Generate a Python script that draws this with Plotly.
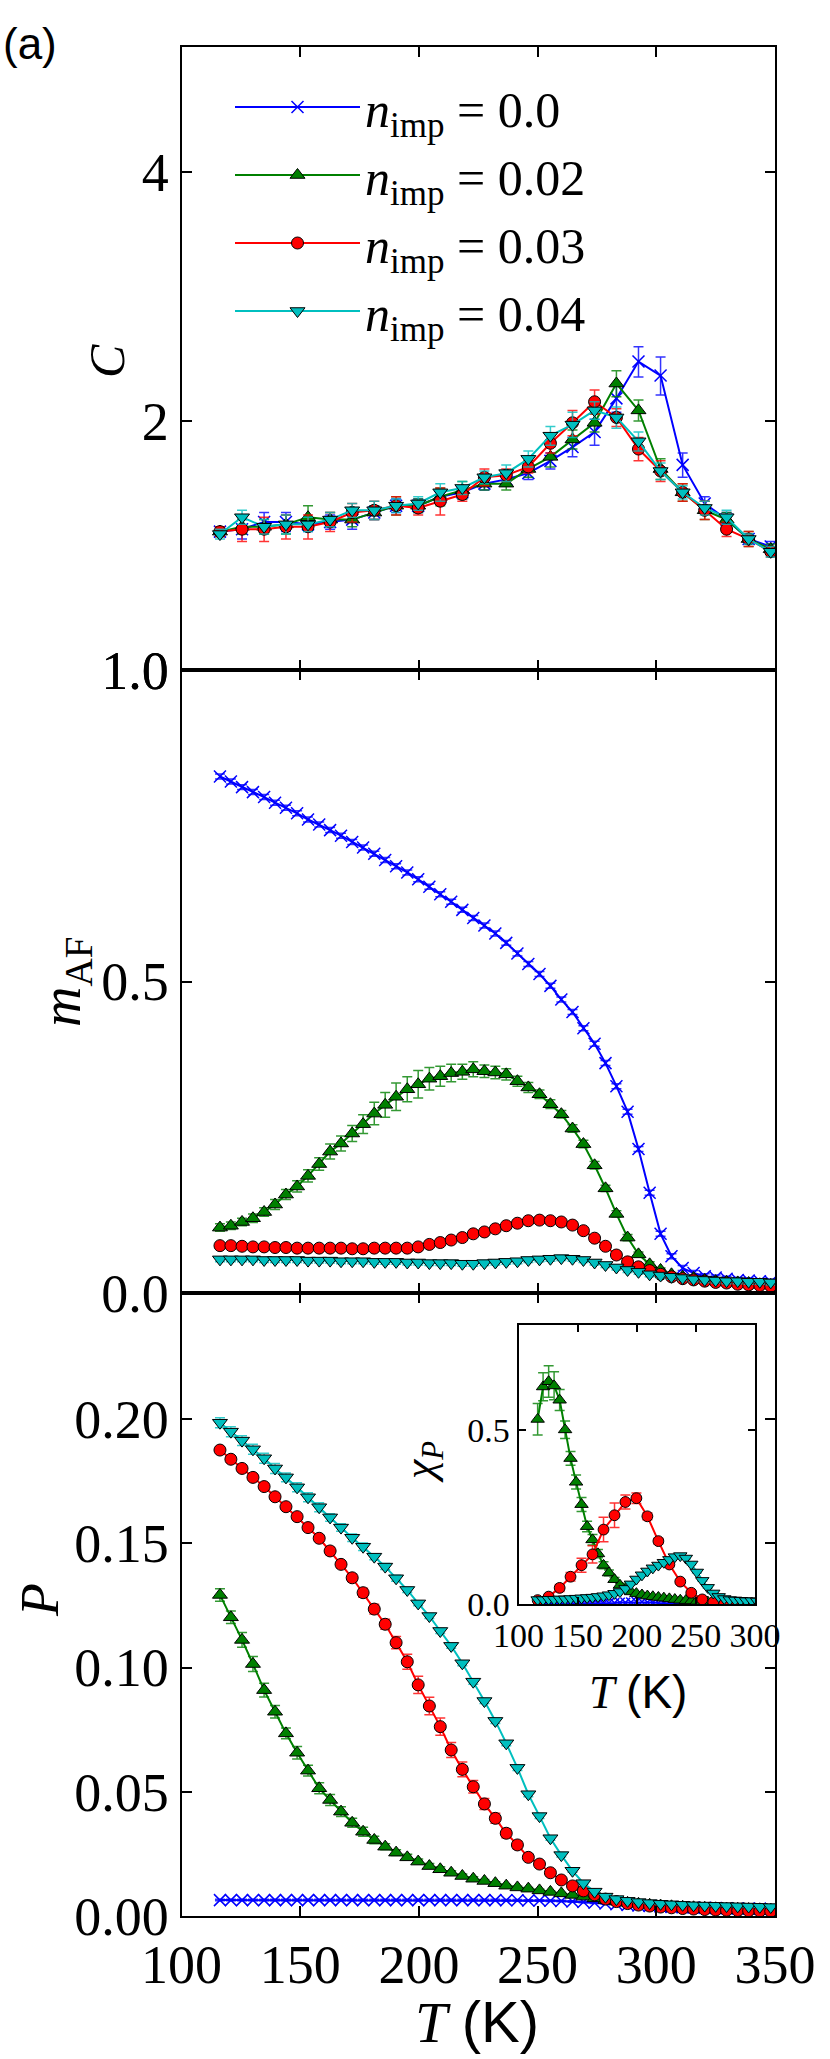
import plotly.graph_objects as go

# temperatuurroosters (K)
T_coarse = [116.2, 125.5, 134.8, 144.0, 153.3, 162.6, 171.9, 181.2, 190.4, 199.7,
            209.0, 218.3, 227.6, 236.8, 246.1, 255.4, 264.7, 274.0, 283.2, 292.5,
            301.8, 311.1, 320.4, 329.6, 338.9, 348.2]
T_fine = [116.2, 120.8, 125.5, 130.1, 134.8, 139.4, 144.0, 148.7, 153.3, 158.0,
          162.6, 167.2, 171.9, 176.5, 181.2, 185.8, 190.4, 195.1, 199.7, 204.4,
          209.0, 213.6, 218.3, 222.9, 227.6, 232.2, 236.8, 241.5, 246.1, 250.8,
          255.4, 260.0, 264.7, 269.3, 274.0, 278.6, 283.2, 287.9, 292.5, 297.2,
          301.8, 306.4, 311.1, 315.7, 320.4, 325.0, 329.6, 334.3, 338.9, 343.6,
          348.2]

labels = ["0.0", "0.02", "0.03", "0.04"]

# paneel 1: soortelijke warmte C
C_0 = [1.47, 1.48, 1.51, 1.51, 1.50, 1.51, 1.52, 1.55, 1.58, 1.58, 1.62, 1.64, 1.68,
       1.70, 1.73, 1.79, 1.86, 1.94, 2.13, 2.36, 2.27, 1.77, 1.59, 1.52, 1.44, 1.41]
C_0_err = [0.02, 0.04, 0.04, 0.04, 0.03, 0.03, 0.04, 0.03, 0.03, 0.03, 0.03, 0.03, 0.03,
           0.03, 0.03, 0.04, 0.05, 0.07, 0.08, 0.10, 0.12, 0.06, 0.03, 0.03, 0.02, 0.02]
C_2 = [1.47, 1.49, 1.49, 1.50, 1.53, 1.52, 1.52, 1.55, 1.58, 1.58, 1.62, 1.65, 1.68,
       1.68, 1.75, 1.81, 1.90, 1.99, 2.22, 2.06, 1.75, 1.64, 1.56, 1.52, 1.44, 1.40]
C_2_err = [0.02, 0.03, 0.03, 0.04, 0.05, 0.03, 0.03, 0.03, 0.04, 0.03, 0.04, 0.04, 0.03,
           0.03, 0.04, 0.05, 0.05, 0.05, 0.08, 0.06, 0.05, 0.04, 0.04, 0.03, 0.03, 0.02]
C_3 = [1.47, 1.48, 1.48, 1.49, 1.49, 1.51, 1.55, 1.56, 1.58, 1.57, 1.60, 1.63, 1.71,
       1.72, 1.76, 1.88, 1.99, 2.11, 2.02, 1.85, 1.74, 1.64, 1.56, 1.48, 1.44, 1.39]
C_3_err = [0.02, 0.05, 0.05, 0.05, 0.05, 0.04, 0.04, 0.04, 0.04, 0.03, 0.06, 0.03, 0.04,
           0.03, 0.03, 0.05, 0.07, 0.07, 0.05, 0.06, 0.05, 0.04, 0.04, 0.03, 0.03, 0.02]
C_4 = [1.46, 1.53, 1.49, 1.50, 1.50, 1.52, 1.56, 1.56, 1.58, 1.59, 1.64, 1.66, 1.71,
       1.73, 1.80, 1.92, 1.98, 2.06, 2.02, 1.89, 1.74, 1.64, 1.57, 1.53, 1.44, 1.39]
C_4_err = [0.02, 0.03, 0.03, 0.04, 0.03, 0.03, 0.03, 0.04, 0.03, 0.03, 0.04, 0.03, 0.03,
           0.04, 0.04, 0.05, 0.07, 0.05, 0.06, 0.05, 0.04, 0.03, 0.03, 0.03, 0.02, 0.02]

# paneel 2: m_AF
m_0 = [0.829, 0.821, 0.812, 0.804, 0.796, 0.787, 0.779, 0.770, 0.760, 0.752,
       0.743, 0.734, 0.724, 0.715, 0.705, 0.695, 0.685, 0.675, 0.664, 0.652,
       0.640, 0.628, 0.615, 0.602, 0.590, 0.577, 0.562, 0.545, 0.528, 0.512,
       0.493, 0.471, 0.451, 0.425, 0.400, 0.369, 0.332, 0.291, 0.231, 0.161,
       0.095, 0.059, 0.040, 0.032, 0.027, 0.025, 0.023, 0.021, 0.020, 0.019, 0.018]
m_2 = [0.105, 0.108, 0.114, 0.120, 0.130, 0.142, 0.158, 0.171, 0.188, 0.207,
       0.227, 0.240, 0.256, 0.271, 0.288, 0.302, 0.315, 0.327, 0.335, 0.344,
       0.348, 0.353, 0.355, 0.359, 0.356, 0.354, 0.351, 0.340, 0.330, 0.319,
       0.303, 0.287, 0.264, 0.239, 0.205, 0.168, 0.127, 0.089, 0.062, 0.046,
       0.037, 0.030, 0.026, 0.024, 0.021, 0.019, 0.018, 0.017, 0.016, 0.014, 0.013]
m_2_err = [0.006, 0.006, 0.006, 0.007, 0.007, 0.008, 0.008, 0.009, 0.010, 0.010,
           0.012, 0.012, 0.013, 0.015, 0.018, 0.020, 0.022, 0.020, 0.022, 0.018,
           0.016, 0.014, 0.012, 0.012, 0.010, 0.010, 0.009, 0.008, 0.008, 0.007,
           0.007, 0.006, 0.006, 0.006, 0.006, 0.005, 0.005, 0.005, 0.004, 0.004,
           0.003, 0.003, 0.003, 0.003, 0.002, 0.002, 0.002, 0.002, 0.002, 0.002, 0.002]
m_3 = [0.076, 0.076, 0.075, 0.074, 0.074, 0.073, 0.073, 0.072, 0.072, 0.072,
       0.072, 0.072, 0.071, 0.071, 0.072, 0.072, 0.072, 0.072, 0.074, 0.078,
       0.081, 0.085, 0.089, 0.095, 0.098, 0.103, 0.108, 0.112, 0.116, 0.117,
       0.116, 0.114, 0.109, 0.100, 0.088, 0.075, 0.061, 0.050, 0.042, 0.036,
       0.030, 0.026, 0.023, 0.021, 0.019, 0.017, 0.016, 0.014, 0.013, 0.012, 0.011]
m_4 = [0.054, 0.054, 0.054, 0.054, 0.053, 0.053, 0.053, 0.053, 0.052, 0.052,
       0.052, 0.051, 0.051, 0.051, 0.050, 0.050, 0.050, 0.049, 0.049, 0.048,
       0.048, 0.048, 0.047, 0.047, 0.048, 0.049, 0.050, 0.051, 0.053, 0.054,
       0.055, 0.056, 0.055, 0.053, 0.049, 0.045, 0.041, 0.037, 0.034, 0.030,
       0.028, 0.026, 0.024, 0.022, 0.021, 0.020, 0.019, 0.019, 0.018, 0.018, 0.017]
m_0_err = [0.004] * 51
m_3_err = [0.004] * 51
m_4_err = [0.004] * 51

# paneel 3: P
P_0 = [0.0064, 0.0064, 0.0064, 0.0064, 0.0064, 0.0064, 0.0064, 0.0064, 0.0064, 0.0064,
       0.0064, 0.0064, 0.0064, 0.0064, 0.0064, 0.0064, 0.0064, 0.0064, 0.0064, 0.0064,
       0.0064, 0.0064, 0.0064, 0.0064, 0.0064, 0.0064, 0.0063, 0.0063, 0.0062, 0.0062,
       0.0061, 0.0060, 0.0058, 0.0056, 0.0053, 0.0050, 0.0047, 0.0044, 0.0042, 0.0040,
       0.0038, 0.0036, 0.0035, 0.0034, 0.0033, 0.0032, 0.0031, 0.0030, 0.0030, 0.0029, 0.0029]
P_0_err = [0.0003] * 51
P_2 = [0.1292, 0.1202, 0.1111, 0.1014, 0.0909, 0.0822, 0.0735, 0.0657, 0.0585, 0.0514,
       0.0467, 0.0420, 0.0375, 0.0339, 0.0306, 0.0279, 0.0255, 0.0236, 0.0219, 0.0201,
       0.0188, 0.0174, 0.0161, 0.0150, 0.0141, 0.0132, 0.0122, 0.0115, 0.0110, 0.0103,
       0.0097, 0.0091, 0.0085, 0.0078, 0.0071, 0.0064, 0.0058, 0.0053, 0.0049, 0.0045,
       0.0042, 0.0039, 0.0037, 0.0035, 0.0033, 0.0031, 0.0030, 0.0029, 0.0028, 0.0027, 0.0026]
P_2_err = [0.0025, 0.0025, 0.0030, 0.0030, 0.0028, 0.0025, 0.0022, 0.0025, 0.0022, 0.0022,
           0.0022, 0.0020, 0.0018, 0.0018, 0.0015, 0.0012, 0.0012, 0.0012, 0.0010, 0.0010,
           0.0010, 0.0008, 0.0008, 0.0008, 0.0006, 0.0006, 0.0005, 0.0005, 0.0005, 0.0005,
           0.0004, 0.0004, 0.0004, 0.0004, 0.0003, 0.0003, 0.0003, 0.0003, 0.0003, 0.0003,
           0.0002, 0.0002, 0.0002, 0.0002, 0.0002, 0.0002, 0.0002, 0.0002, 0.0002, 0.0002, 0.0002]
P_3 = [0.1875, 0.1838, 0.1801, 0.1765, 0.1728, 0.1687, 0.1647, 0.1607, 0.1563, 0.1520,
       0.1469, 0.1415, 0.1361, 0.1301, 0.1235, 0.1174, 0.1100, 0.1023, 0.0930, 0.0845,
       0.0762, 0.0668, 0.0590, 0.0520, 0.0451, 0.0393, 0.0333, 0.0286, 0.0236, 0.0209,
       0.0174, 0.0145, 0.0121, 0.0101, 0.0085, 0.0068, 0.0058, 0.0050, 0.0044, 0.0040,
       0.0036, 0.0033, 0.0030, 0.0028, 0.0026, 0.0024, 0.0023, 0.0022, 0.0021, 0.0020, 0.0019]
P_3_err = [0.0012, 0.0012, 0.0012, 0.0012, 0.0012, 0.0012, 0.0012, 0.0012, 0.0012, 0.0012,
           0.0015, 0.0015, 0.0015, 0.0018, 0.0020, 0.0020, 0.0025, 0.0030, 0.0035, 0.0035,
           0.0035, 0.0030, 0.0030, 0.0025, 0.0022, 0.0020, 0.0018, 0.0015, 0.0012, 0.0010,
           0.0008, 0.0008, 0.0006, 0.0005, 0.0005, 0.0004, 0.0004, 0.0003, 0.0003, 0.0003,
           0.0002, 0.0002, 0.0002, 0.0002, 0.0002, 0.0002, 0.0002, 0.0002, 0.0002, 0.0002, 0.0002]
P_4 = [0.1985, 0.1949, 0.1913, 0.1878, 0.1842, 0.1801, 0.1765, 0.1725, 0.1685, 0.1645,
       0.1604, 0.1563, 0.1522, 0.1486, 0.1446, 0.1406, 0.1359, 0.1312, 0.1258, 0.1207,
       0.1147, 0.1087, 0.1017, 0.0943, 0.0865, 0.0785, 0.0695, 0.0596, 0.0490, 0.0402,
       0.0313, 0.0245, 0.0182, 0.0132, 0.0098, 0.0078, 0.0068, 0.0061, 0.0056, 0.0052,
       0.0049, 0.0047, 0.0045, 0.0043, 0.0042, 0.0041, 0.0040, 0.0039, 0.0038, 0.0037, 0.0036]
P_4_err = [0.0020, 0.0020, 0.0020, 0.0020, 0.0020, 0.0020, 0.0018, 0.0018, 0.0018, 0.0018,
           0.0015, 0.0015, 0.0015, 0.0015, 0.0012, 0.0012, 0.0012, 0.0010, 0.0010, 0.0010,
           0.0010, 0.0010, 0.0010, 0.0010, 0.0010, 0.0010, 0.0010, 0.0010, 0.0010, 0.0010,
           0.0008, 0.0008, 0.0006, 0.0005, 0.0004, 0.0004, 0.0003, 0.0003, 0.0003, 0.0003,
           0.0002, 0.0002, 0.0002, 0.0002, 0.0002, 0.0002, 0.0002, 0.0002, 0.0002, 0.0002, 0.0002]

# inzet: chi_P
chi_0 = [0.002, 0.002, 0.002, 0.002, 0.002, 0.002, 0.002, 0.002, 0.002, 0.003,
         0.003, 0.003, 0.003, 0.004, 0.004, 0.005, 0.005, 0.006, 0.007, 0.007,
         0.006, 0.005, 0.004, 0.003, 0.003, 0.002, 0.002, 0.002, 0.001, 0.001,
         0.001, 0.001, 0.001, 0.001, 0.001, 0.001, 0.001, 0.001, 0.001, 0.001,
         0.001, 0.001, 0.001, 0.001, 0.001, 0.001, 0.001, 0.001, 0.001, 0.001, 0.001]
chi_2 = [0.530, 0.623, 0.638, 0.626, 0.585, 0.500, 0.418, 0.350, 0.286, 0.223,
         0.185, 0.145, 0.112, 0.090, 0.071, 0.055, 0.043, 0.036, 0.031, 0.027,
         0.024, 0.022, 0.020, 0.018, 0.016, 0.014, 0.012, 0.011, 0.010, 0.009,
         0.008, 0.007, 0.006, 0.005, 0.004, 0.004, 0.003, 0.003, 0.002, 0.002,
         0.002, 0.002, 0.001, 0.001, 0.001, 0.001, 0.001, 0.001, 0.001, 0.001, 0.001]
chi_2_err = [0.045, 0.040, 0.045, 0.040, 0.030, 0.025, 0.020, 0.020, 0.020, 0.015,
             0.015, 0.012, 0.010, 0.008, 0.006, 0.005, 0.004, 0.004, 0.003, 0.003,
             0.003, 0.002, 0.002, 0.002, 0.002, 0.002, 0.001, 0.001, 0.001, 0.001,
             0.001, 0.001, 0.001, 0.001, 0.001, 0.001, 0.001, 0.001, 0.001, 0.001,
             0.001, 0.001, 0.001, 0.001, 0.001, 0.001, 0.001, 0.001, 0.001, 0.001, 0.001]
chi_3 = [0.012, 0.022, 0.047, 0.079, 0.112, 0.143, 0.214, 0.255, 0.293, 0.304,
         0.252, 0.181, 0.114, 0.065, 0.033, 0.014, 0.006, 0.003, 0.002, 0.001,
         0.001, 0.001, 0.001, 0.001, 0.001, 0.001]
chi_3_err = [0.003, 0.005, 0.010, 0.012, 0.020, 0.025, 0.035, 0.035, 0.020, 0.015,
             0.010, 0.008, 0.006, 0.005, 0.004, 0.003, 0.002, 0.001, 0.001, 0.001,
             0.001, 0.001, 0.001, 0.001, 0.001, 0.001]
chi_4 = [0.013, 0.013, 0.014, 0.014, 0.015, 0.015, 0.016, 0.017, 0.018, 0.019,
         0.020, 0.022, 0.024, 0.027, 0.031, 0.036, 0.045, 0.058, 0.072, 0.084,
         0.095, 0.104, 0.112, 0.120, 0.128, 0.136, 0.139, 0.132, 0.115, 0.092,
         0.068, 0.048, 0.032, 0.022, 0.016, 0.013, 0.012, 0.011, 0.010, 0.010,
         0.009, 0.009, 0.009, 0.008, 0.008, 0.008, 0.008, 0.008, 0.008, 0.008, 0.008]
chi_4_err = [0.002] * 51

BLUE, GREEN, RED, CYAN = "#0000ff", "#008000", "#ff0000", "#00bfbf"
ERR = {BLUE: "rgba(0,0,255,0.8)", GREEN: "rgba(0,128,0,0.8)",
       RED: "rgba(255,0,0,0.8)", CYAN: "rgba(0,191,191,0.8)"}
SYMBOLS = {BLUE: "x-thin", GREEN: "triangle-up", RED: "circle", CYAN: "triangle-down"}
SIZES = {BLUE: 12, GREEN: 13, RED: 12, CYAN: 13}


def series(x, y, err, color, xa, ya, name=None, legend=False, scale=1.0):
    size = SIZES[color] * scale
    if color == BLUE:
        marker = dict(symbol="x-thin", size=size, line=dict(color=BLUE, width=1.5))
    else:
        marker = dict(symbol=SYMBOLS[color], size=size, color=color,
                      line=dict(color="black", width=1))
    tr = go.Scatter(x=x, y=y, mode="lines+markers", xaxis=xa, yaxis=ya,
                    line=dict(color=color, width=2), marker=marker,
                    name=name, showlegend=legend)
    if err is not None:
        tr.error_y = dict(type="data", array=err, color=ERR[color],
                          thickness=1.5, width=5)
    return tr


fig = go.Figure()
colors = [BLUE, GREEN, RED, CYAN]

# paneel 1
for c, y, e, lab in zip(colors, [C_0, C_2, C_3, C_4],
                        [C_0_err, C_2_err, C_3_err, C_4_err], labels):
    fig.add_trace(series(T_coarse, y, e, c, "x", "y",
                         name=f"<i>n</i><sub>imp</sub> = {lab}", legend=True))

# paneel 2
for c, y, e in zip(colors, [m_0, m_2, m_3, m_4], [m_0_err, m_2_err, m_3_err, m_4_err]):
    fig.add_trace(series(T_fine, y, e, c, "x2", "y2"))

# paneel 3
for c, y, e in zip(colors, [P_0, P_2, P_3, P_4], [P_0_err, P_2_err, P_3_err, P_4_err]):
    fig.add_trace(series(T_fine, y, e, c, "x3", "y3"))

# inzet
fig.add_trace(series(T_fine, chi_0, None, BLUE, "x4", "y4", scale=0.8))
fig.add_trace(series(T_fine, chi_2, chi_2_err, GREEN, "x4", "y4", scale=0.9))
fig.add_trace(series(T_coarse, chi_3, chi_3_err, RED, "x4", "y4", scale=0.9))
fig.add_trace(series(T_fine, chi_4, chi_4_err, CYAN, "x4", "y4", scale=0.9))

W, H = 830, 2059
left, right = 181.5 / W, 775 / W
y_top = (H - 46.7) / H
y_12 = (H - 670) / H
y_23 = (H - 1293) / H
y_bot = (H - 1916) / H

tickfont = dict(family="Liberation Serif", size=54, color="black")
inset_font = dict(family="Liberation Serif", size=34, color="black")

axis_common = dict(showline=True, linecolor="black", linewidth=2, mirror="ticks",
                   ticks="inside", ticklen=10, tickwidth=1.5, tickcolor="black",
                   showgrid=False, zeroline=False, automargin=False)

xcommon = dict(axis_common, range=[100, 350], tick0=100, dtick=50, domain=[left, right])

fig.update_layout(
    width=W, height=H,
    margin=dict(l=0, r=0, t=0, b=0),
    plot_bgcolor="white", paper_bgcolor="white",
    xaxis=dict(xcommon, anchor="y", showticklabels=False),
    yaxis=dict(axis_common, anchor="x", type="log", domain=[y_12, y_top],
               range=[0, 0.7536], tickvals=[1, 2, 4], ticktext=["1.0", "2", "4"],
               tickfont=tickfont),
    xaxis2=dict(xcommon, anchor="y2", showticklabels=False),
    yaxis2=dict(axis_common, anchor="x2", domain=[y_23, y_12], range=[0, 1.0],
                tickvals=[0, 0.5, 1.0], ticktext=["0.0", "0.5", "1.0"], tickfont=tickfont),
    xaxis3=dict(xcommon, anchor="y3", tickfont=tickfont,
                tickvals=[100, 150, 200, 250, 300, 350]),
    yaxis3=dict(axis_common, anchor="x3", domain=[y_bot, y_23], range=[0, 0.2507],
                tickvals=[0, 0.05, 0.10, 0.15, 0.20],
                ticktext=["0.00", "0.05", "0.10", "0.15", "0.20"], tickfont=tickfont),
    xaxis4=dict(axis_common, anchor="y4", domain=[518.5 / W, 755 / W], range=[100, 300],
                tickvals=[100, 150, 200, 250, 300], tickfont=inset_font, ticklen=7),
    yaxis4=dict(axis_common, anchor="x4", domain=[(H - 1604.3) / H, (H - 1325) / H],
                range=[0, 0.80], tickvals=[0, 0.5], ticktext=["0.0", "0.5"],
                tickfont=inset_font, ticklen=7),
    legend=dict(x=230 / W, y=(H - 68) / H, xanchor="left", yanchor="top",
                bgcolor="rgba(0,0,0,0)", itemwidth=125,
                font=dict(family="Liberation Serif", size=50, color="black")),
)


def label(text, px, py, size, angle=0, family="Liberation Serif"):
    fig.add_annotation(text=text, x=px / W, y=(H - py) / H, xref="paper", yref="paper",
                       showarrow=False, textangle=angle, xanchor="center", yanchor="middle",
                       font=dict(family=family, size=size, color="black"))


label("<i>C</i>", 107, 361, 50, -90)
label("<i>m</i><sub>AF</sub>", 65, 982, 56, -90)
label("<i>P</i>", 40, 1600, 54, -90)
label("<i>T</i> <span style='font-family:Liberation Sans'>(K)</span>", 477, 2022, 58)
label("<i>χ</i><sub><i>P</i></sub>", 422, 1462, 44, -90)
label("<i>T</i> <span style='font-family:Liberation Sans'>(K)</span>", 638, 1692, 46)
label("(a)", 30, 43, 44, family="Liberation Sans")

fig.write_html("out.html", config={"displayModeBar": False},
               post_script="document.body.style.margin='0';")
